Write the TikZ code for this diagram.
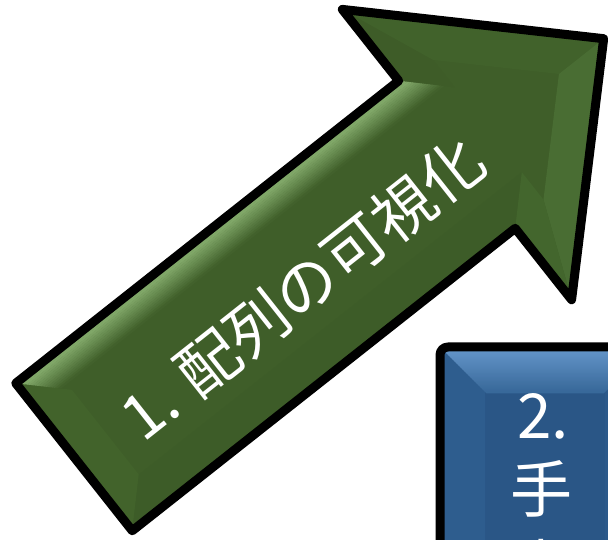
\documentclass[tikz,border=0pt]{standalone}
\usepackage{fontspec}
\setmainfont{Noto Sans CJK JP}
\definecolor{gmain}{HTML}{3F5E29}
\definecolor{ghl}{HTML}{80A768}
\definecolor{gtail}{HTML}{42632B}
\definecolor{gbot}{HTML}{3D5C28}
\definecolor{gbc}{HTML}{3E5C28}
\definecolor{gcd}{HTML}{41622B}
\definecolor{gde}{HTML}{496D33}
\definecolor{gef}{HTML}{43662D}
\definecolor{bmain}{HTML}{2A5686}
\definecolor{bhl}{HTML}{6597CB}
\definecolor{bbev}{HTML}{386899}
\definecolor{bleft}{HTML}{2E5D8E}
\definecolor{bright}{HTML}{2C598A}
\begin{document}
\begin{tikzpicture}[x=1pt,y=1pt,
  outline/.style={draw=black,line width=9pt,line join=round},
  lbl/.style={text=white,font=\fontsize{62}{74}\selectfont,inner sep=0pt}]
\useasboundingbox (0,0) rectangle (608,540);
\clip (0,0) rectangle (608,540);
\fill[white] (0,0) rectangle (608,540);

% ---------- green arrow ----------
\begin{scope}[shift={(74,83)},rotate=38.3]
  \coordinate (A) at (0,94);
  \coordinate (B) at (488,94);
  \coordinate (C) at (488,185);
  \coordinate (D) at (675,0);
  \coordinate (E) at (488,-185);
  \coordinate (F) at (488,-94);
  \coordinate (G) at (0,-94);
  \coordinate (Ai) at (40,54);
  \coordinate (Bi) at (528,54);
  \coordinate (Ci) at (528,89);
  \coordinate (Di) at (618,0);
  \coordinate (Ei) at (528,-89);
  \coordinate (Fi) at (528,-54);
  \coordinate (Gi) at (40,-54);
  \fill[gmain] (A)--(B)--(C)--(D)--(E)--(F)--(G)--cycle;
  \fill[gtail] (A)--(Ai)--(Gi)--(G)--cycle;
  \fill[gbot] (G)--(F)--(Fi)--(Gi)--cycle;
  \fill[gbc] (B)--(C)--(Ci)--(Bi)--cycle;
  \fill[gcd] (C)--(D)--(Di)--(Ci)--cycle;
  \fill[gde] (D)--(E)--(Ei)--(Di)--cycle;
  \fill[gef] (E)--(F)--(Fi)--(Ei)--cycle;
  \foreach \k in {0,...,15} {
    \pgfmathsetmacro\a{\k*2}
    \pgfmathtruncatemacro\m{\k<3 ? 100 : max(0,100-(\k-3)*8)}
    \fill[ghl!\m!gmain] (\a,94-\a) -- (488+\a,94-\a) -- (490.3+\a,91.7-\a) -- (\a+2.3,91.7-\a) -- cycle;
  }
  \draw[outline] (A)--(B)--(C)--(D)--(E)--(F)--(G)--cycle;
  \node[lbl,rotate=38.3] (t1) at (284,-9) {1. 配列の可視化};
\end{scope}

% ---------- blue box ----------
\fill[bmain] (440,193) rectangle (650,-80);
\fill[bleft] (440,193)--(485,148)--(485,-80)--(440,-80)--cycle;
\fill[bright] (650,193)--(605,148)--(605,-80)--(650,-80)--cycle;
\foreach \k in {0,...,22} {
  \pgfmathsetmacro\a{\k*2}
  \pgfmathtruncatemacro\m{max(0,100-\k*4.5)}
  \fill[bhl!\m!bbev] (440+\a,193-\a) -- (650-\a,193-\a) -- (647.7-\a,190.7-\a) -- (442.3+\a,190.7-\a) -- cycle;
}
\draw[outline,rounded corners=8] (440,-80) rectangle (650,193);
\node[lbl] (t2a) at (543,124) {2.};
\node[lbl] (t2b) at (541,51) {手};
\node[lbl] (t2c) at (541,-28) {書};
\end{tikzpicture}
\end{document}
